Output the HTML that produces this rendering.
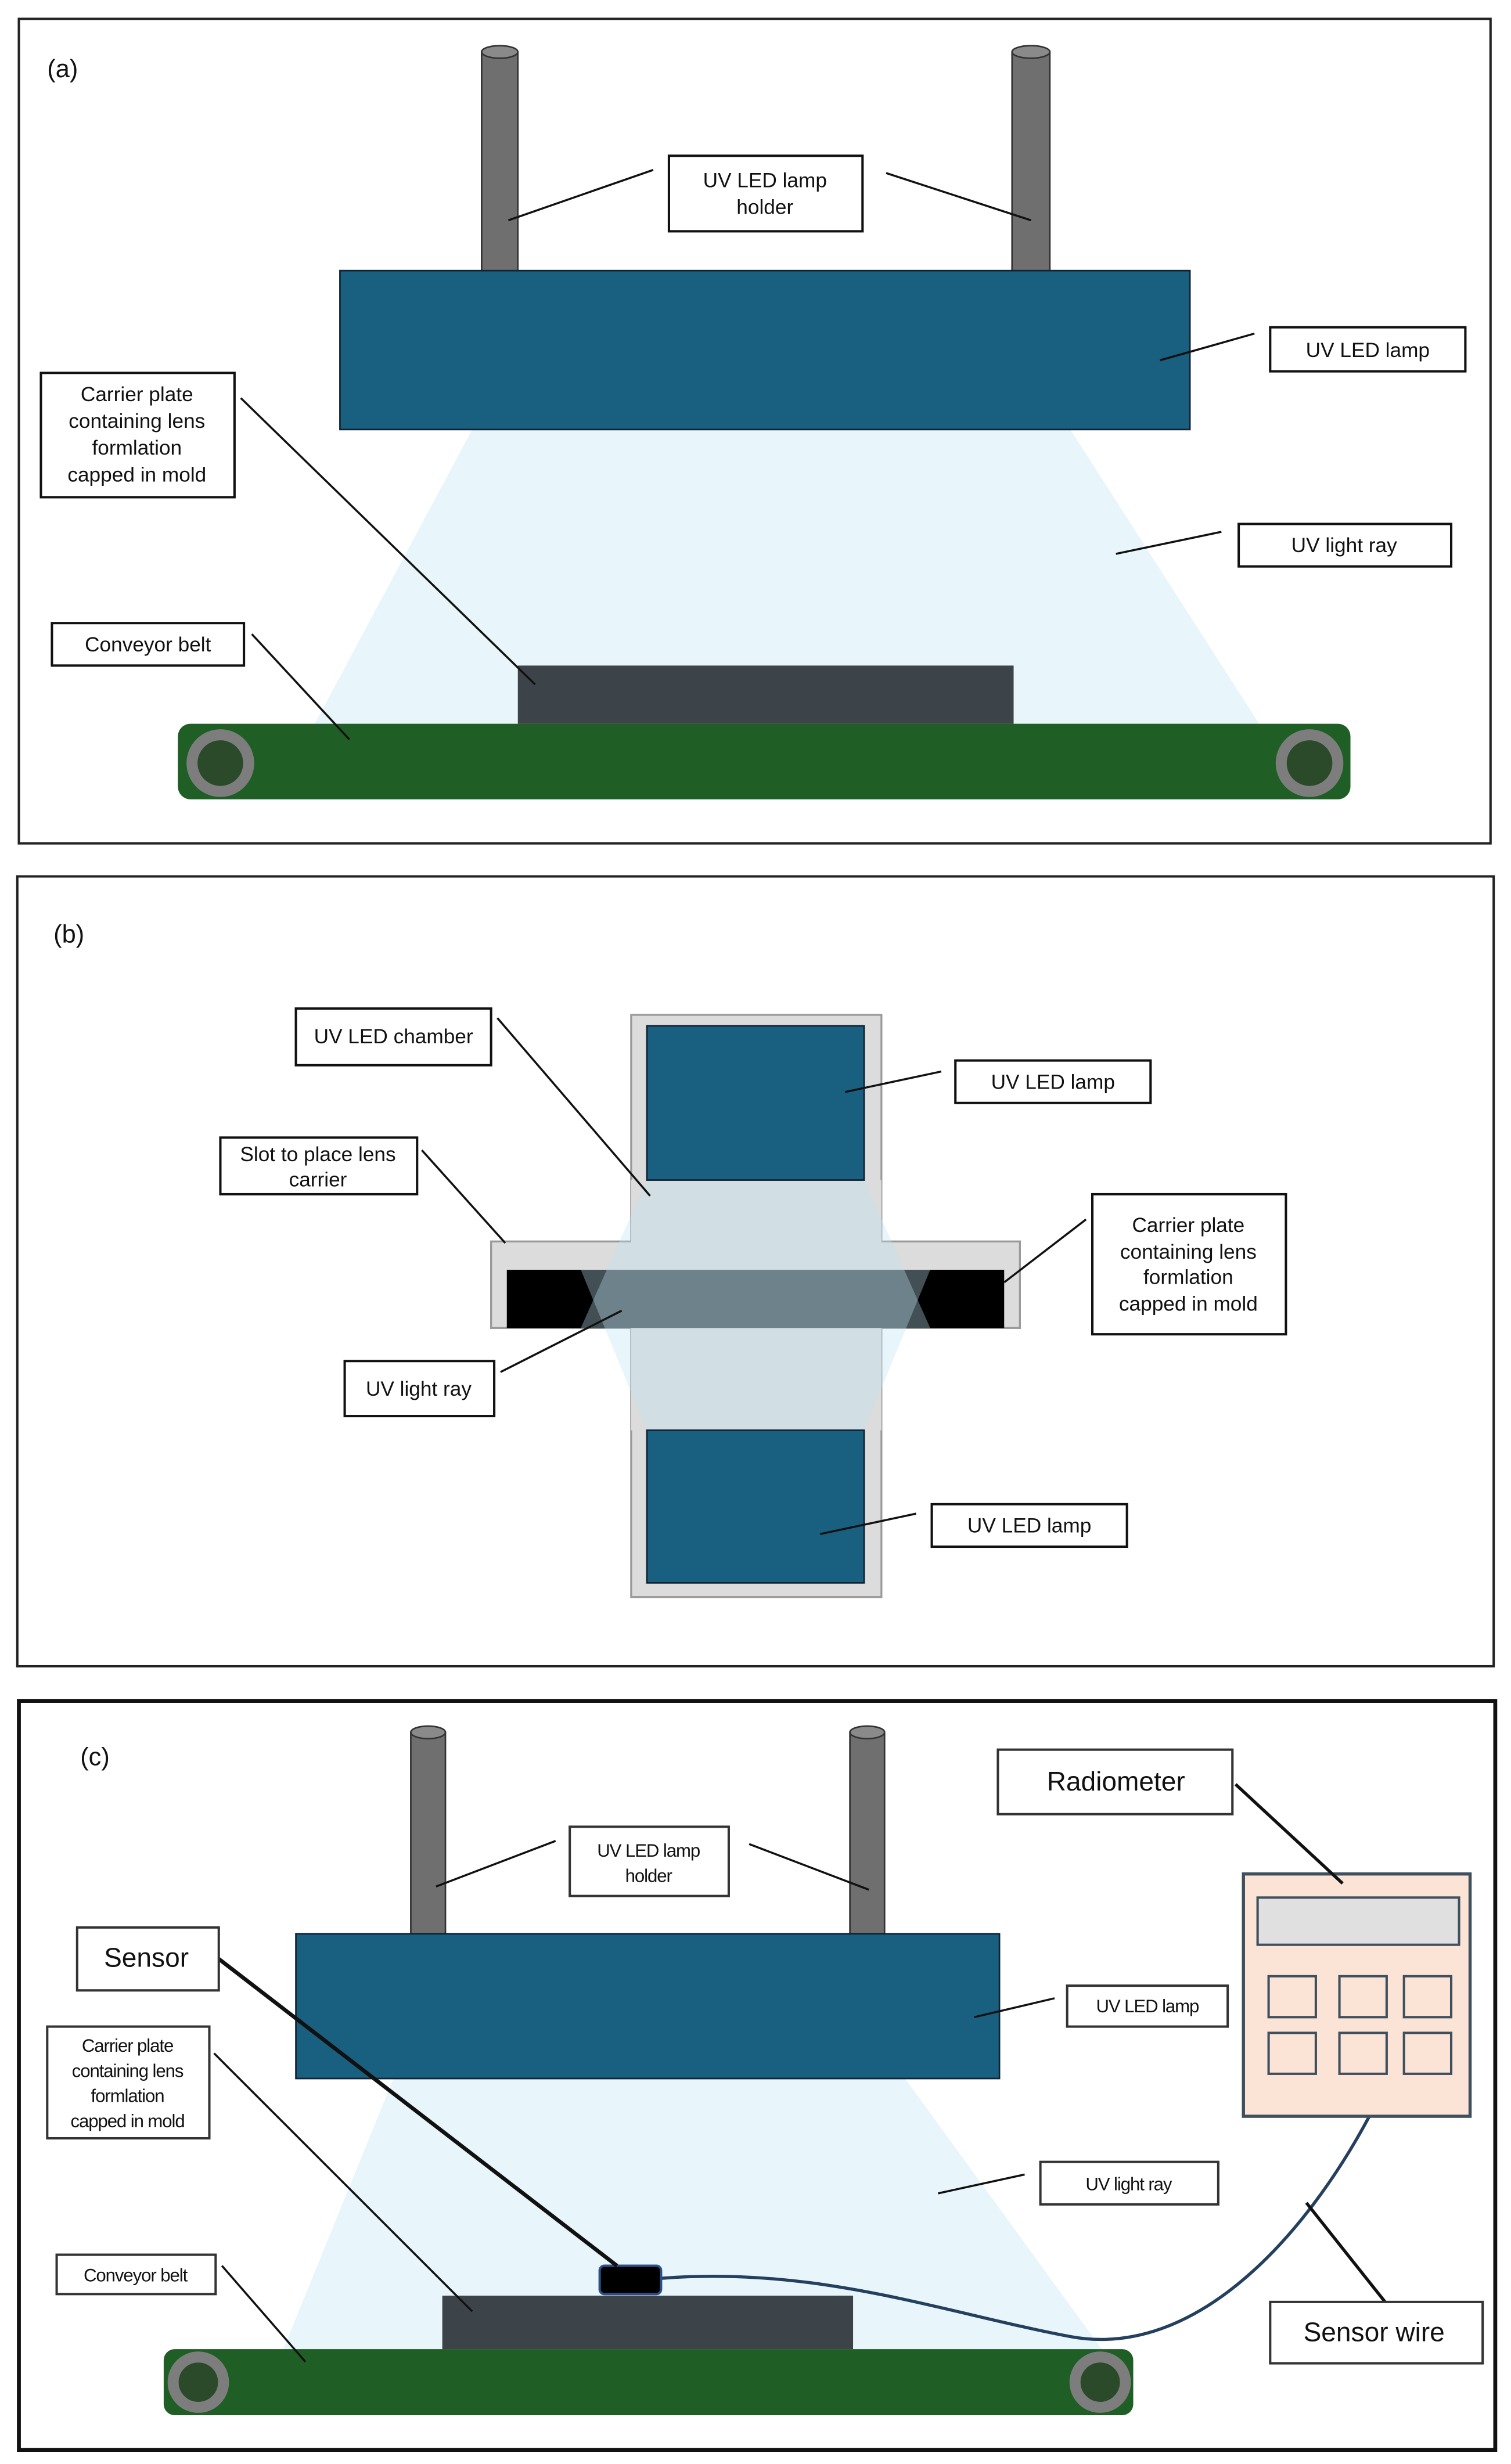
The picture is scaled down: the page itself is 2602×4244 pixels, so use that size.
<!DOCTYPE html>
<html><head><meta charset="utf-8"><style>
html,body{margin:0;padding:0;background:#fff;}
svg{display:block;}
text{font-family:"Liberation Sans",sans-serif;fill:#111;}
</style></head><body>
<svg width="2602" height="4244" viewBox="0 0 960 1566" preserveAspectRatio="none" xmlns="http://www.w3.org/2000/svg">
<rect x="0" y="0" width="960" height="1566" fill="#fff"/>
<!-- Panel A -->
<rect x="12" y="12" width="935" height="524" fill="#fff" stroke="#222" stroke-width="1.5"/>
<text x="30" y="49" font-size="16">(a)</text>
<polygon points="300,273 680,273 800,460 200,460" fill="#e8f5fb"/>
<rect x="306" y="33" width="23" height="140" fill="#6f6f6f" stroke="#333" stroke-width="1"/>
<ellipse cx="317.5" cy="33" rx="11.5" ry="4" fill="#8a8a8a" stroke="#333" stroke-width="1"/>
<rect x="643" y="33" width="24" height="140" fill="#6f6f6f" stroke="#333" stroke-width="1"/>
<ellipse cx="655" cy="33" rx="12" ry="4" fill="#8a8a8a" stroke="#333" stroke-width="1"/>
<rect x="216" y="172" width="540" height="101" fill="#185f80" stroke="#123" stroke-width="1"/>
<rect x="113" y="460" width="745" height="48" rx="8" fill="#1f5e24"/>
<circle cx="140" cy="485" r="18" fill="#2a4a2a" stroke="#7d7d7d" stroke-width="7"/>
<circle cx="832" cy="485" r="18" fill="#2a4a2a" stroke="#7d7d7d" stroke-width="7"/>
<rect x="329" y="423" width="315" height="37" fill="#3d4449"/>
<g stroke="#111" stroke-width="1.3" fill="none">
<line x1="415" y1="108" x2="323" y2="140"/><line x1="563" y1="110" x2="655" y2="140"/>
<line x1="797" y1="212" x2="737" y2="229"/><line x1="153" y1="253" x2="340" y2="435"/>
<line x1="776" y1="338" x2="709" y2="352"/><line x1="160" y1="403" x2="222" y2="470"/>
</g>
<g fill="#fff" stroke="#111" stroke-width="1.5">
<rect x="425" y="99" width="123" height="48"/><rect x="807" y="208" width="124" height="28"/>
<rect x="26" y="237" width="123" height="79"/><rect x="787" y="333" width="135" height="27"/>
<rect x="33" y="396" width="122" height="27"/>
</g>
<g font-size="13" text-anchor="middle">
<text x="486" y="119">UV LED lamp</text><text x="486" y="136">holder</text>
<text x="869" y="227">UV LED lamp</text>
<text x="87" y="255">Carrier plate</text><text x="87" y="272">containing lens</text><text x="87" y="289">formlation</text><text x="87" y="306">capped in mold</text>
<text x="854" y="351">UV light ray</text>
<text x="94" y="414">Conveyor belt</text>
</g>
<!-- Panel B -->
<rect x="11" y="557" width="938" height="502" fill="#fff" stroke="#222" stroke-width="1.5"/>
<text x="34" y="599" font-size="16">(b)</text>
<rect x="401" y="645" width="159" height="370" fill="#dcdcdc" stroke="#999" stroke-width="1.2"/>
<rect x="312" y="789" width="336" height="55" fill="#dcdcdc" stroke="#999" stroke-width="1.2"/>
<rect x="401" y="750" width="159" height="159" fill="#dcdcdc"/>
<rect x="322" y="807" width="316" height="37" fill="#000"/>
<polygon points="411,750 549,750 591,844 369,844" fill="rgb(190,225,240)" fill-opacity="0.35"/>
<polygon points="369,807 591,807 549,909 411,909" fill="rgb(190,225,240)" fill-opacity="0.35"/>
<rect x="411" y="652" width="138" height="98" fill="#185f80" stroke="#123" stroke-width="1"/>
<rect x="411" y="909" width="138" height="97" fill="#185f80" stroke="#123" stroke-width="1"/>
<g stroke="#111" stroke-width="1.3">
<line x1="316" y1="647" x2="413" y2="760"/><line x1="598" y1="681" x2="537" y2="694"/>
<line x1="268" y1="731" x2="321" y2="790"/><line x1="690" y1="775" x2="638" y2="815"/>
<line x1="318" y1="872" x2="395" y2="833"/><line x1="582" y1="962" x2="521" y2="975"/>
</g>
<g fill="#fff" stroke="#111" stroke-width="1.5">
<rect x="188" y="641" width="124" height="36"/><rect x="607" y="674" width="124" height="27"/>
<rect x="140" y="723" width="125" height="36"/><rect x="694" y="759" width="123" height="89"/>
<rect x="219" y="865" width="95" height="35"/><rect x="592" y="956" width="124" height="27"/>
</g>
<g font-size="13" text-anchor="middle">
<text x="250" y="663">UV LED chamber</text>
<text x="669" y="692">UV LED lamp</text>
<text x="202" y="738">Slot to place lens</text><text x="202" y="754">carrier</text>
<text x="755" y="783">Carrier plate</text><text x="755" y="800">containing lens</text><text x="755" y="816">formlation</text><text x="755" y="833">capped in mold</text>
<text x="266" y="887">UV light ray</text>
<text x="654" y="974">UV LED lamp</text>
</g>
<!-- Panel C -->
<rect x="12" y="1081" width="938" height="476" fill="#fff" stroke="#111" stroke-width="2.5"/>
<text x="51" y="1122" font-size="16">(c)</text>
<polygon points="250,1321 575,1321 700,1493 180,1493" fill="#e8f5fb"/>
<rect x="261" y="1101" width="22" height="128" fill="#6f6f6f" stroke="#333" stroke-width="1"/>
<ellipse cx="272" cy="1101" rx="11" ry="4" fill="#8a8a8a" stroke="#333" stroke-width="1"/>
<rect x="540" y="1101" width="22" height="128" fill="#6f6f6f" stroke="#333" stroke-width="1"/>
<ellipse cx="551" cy="1101" rx="11" ry="4" fill="#8a8a8a" stroke="#333" stroke-width="1"/>
<rect x="188" y="1229" width="447" height="92" fill="#185f80" stroke="#123" stroke-width="1"/>
<rect x="104" y="1493" width="616" height="42" rx="7" fill="#1f5e24"/>
<circle cx="126" cy="1514" r="16" fill="#2a4a2a" stroke="#7d7d7d" stroke-width="7"/>
<circle cx="699" cy="1514" r="16" fill="#2a4a2a" stroke="#7d7d7d" stroke-width="7"/>
<rect x="281" y="1459" width="261" height="34" fill="#3d4449"/>
<path d="M420 1448 C 520 1440, 600 1470, 680 1485 C 760 1500, 830 1420, 870 1345" fill="none" stroke="#24405e" stroke-width="2"/>
<rect x="381" y="1440" width="39" height="18" rx="3" fill="#000" stroke="#2c4f86" stroke-width="1.5"/>
<rect x="790" y="1191" width="144" height="154" fill="#fbe3d6" stroke="#3e4f5e" stroke-width="2"/>
<rect x="799" y="1206" width="128" height="30" fill="#e0e0e0" stroke="#3e4f5e" stroke-width="1.5"/>
<g fill="#fbe3d6" stroke="#3e4f5e" stroke-width="1.5">
<rect x="806" y="1256" width="30" height="26"/><rect x="851" y="1256" width="30" height="26"/><rect x="892" y="1256" width="30" height="26"/>
<rect x="806" y="1292" width="30" height="26"/><rect x="851" y="1292" width="30" height="26"/><rect x="892" y="1292" width="30" height="26"/>
</g>
<g stroke="#111" stroke-width="1.3">
<line x1="353" y1="1170" x2="277" y2="1199"/><line x1="476" y1="1172" x2="552" y2="1201"/>
<line x1="785" y1="1134" x2="853" y2="1197" stroke-width="2"/>
<line x1="139" y1="1245" x2="392" y2="1440" stroke-width="2.5"/>
<line x1="670" y1="1270" x2="619" y2="1282"/><line x1="136" y1="1305" x2="300" y2="1469"/>
<line x1="651" y1="1382" x2="596" y2="1394"/><line x1="141" y1="1440" x2="194" y2="1501"/>
<line x1="830" y1="1400" x2="880" y2="1463" stroke-width="2"/>
</g>
<g fill="#fff" stroke="#333" stroke-width="1.5">
<rect x="362" y="1161" width="101" height="44"/><rect x="634" y="1112" width="149" height="41"/>
<rect x="49" y="1225" width="90" height="40"/><rect x="678" y="1262" width="102" height="26"/>
<rect x="30" y="1288" width="103" height="71"/><rect x="661" y="1374" width="113" height="27"/>
<rect x="36" y="1433" width="101" height="25"/><rect x="807" y="1463" width="135" height="39"/>
</g>
<g font-size="11.5" text-anchor="middle" letter-spacing="-0.4">
<text x="412" y="1180">UV LED lamp</text><text x="412" y="1196">holder</text>
<text x="729" y="1279">UV LED lamp</text>
<text x="81" y="1304">Carrier plate</text><text x="81" y="1320">containing lens</text><text x="81" y="1336">formlation</text><text x="81" y="1352">capped in mold</text>
<text x="717" y="1392">UV light ray</text>
<text x="86" y="1450">Conveyor belt</text>
</g>
<g font-size="17" text-anchor="middle">
<text x="709" y="1138">Radiometer</text>
<text x="93" y="1250">Sensor</text>
<text x="873" y="1488">Sensor wire</text>
</g>
</svg>
</body></html>
